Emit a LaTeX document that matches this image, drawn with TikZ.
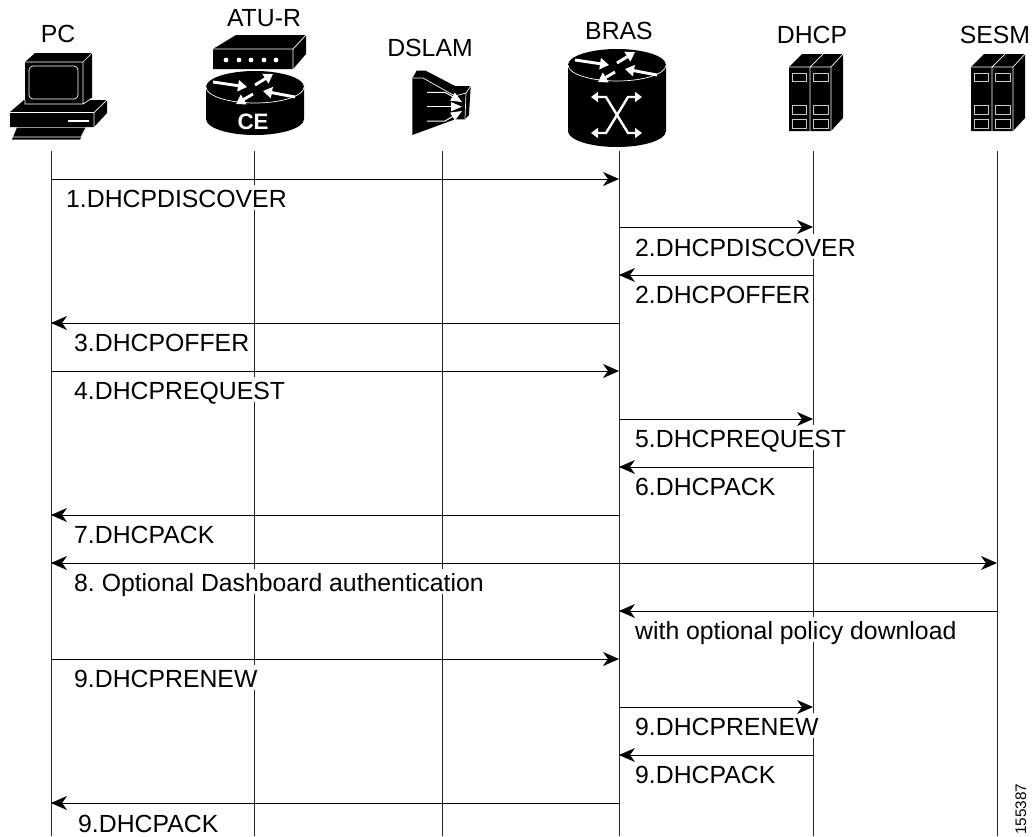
\documentclass[tikz,border=0pt]{standalone}
\usepackage{fontspec}
\setmainfont{Liberation Sans}
\usetikzlibrary{arrows.meta,positioning}
\definecolor{slotgray}{HTML}{C8C8C8}
\tikzset{
  lifeline/.style={black!85, line width=1pt},
  msg/.style={black, line width=0.9pt, -{Stealth[length=16pt,width=14pt,inset=5pt]}},
  msgboth/.style={black, line width=0.9pt, {Stealth[length=16pt,width=14pt,inset=5pt]}-{Stealth[length=16pt,width=14pt,inset=5pt]}},
  msglabel/.style={anchor=base west, inner sep=0pt, fill=white, text height=22pt, text depth=3pt, font=\fontsize{24.8}{28}\selectfont},
  devlabel/.style={anchor=base, inner sep=0pt, font=\fontsize{24.8}{28}\selectfont},
  whitearrow/.style={white, line width=2.9pt, -{Triangle[length=9pt,width=11pt]}},
  thinwhite/.style={white, line width=0.7pt},
  % router drum, origin at the centre of the top ellipse
  routerdrum/.pic={
    \fill[black] (-49,0) arc[start angle=180, end angle=360, x radius=49, y radius=16]
      -- (49,#1) arc[start angle=0, end angle=180, x radius=49, y radius=16] -- cycle;
    \draw[thinwhite] (-49,0) arc[start angle=180, end angle=0, x radius=49, y radius=16];
    \draw[whitearrow] (-42,-5) -- (-8,0);
    \draw[whitearrow] (0,-2) -- (18,-13);
    \draw[whitearrow] (40,10) -- (8,4);
    \draw[whitearrow] (-2,7) -- (-19,17);
  },
  % server pair, origin at the front top left corner
  serverpair/.pic={
    \fill[black] (0,0) -- (13,-13) -- (54,-13) -- (54,51) -- (42,64) -- (0,64) -- cycle;
    \draw[thinwhite] (0,0) -- (42,0) -- (54,-13) (21,0) -- (34,-13)
      (42,0) -- (42,64) (21,0) -- (21,64);
    \foreach \yy/\hh in {6/8,38/9,52/9}{
      \draw[slotgray, line width=0.8pt] (3,\yy) rectangle ++(14,\hh);
      \draw[slotgray, line width=0.8pt] (24,\yy) rectangle ++(15,\hh);
    }
  }
}
\begin{document}
\frenchspacing
\begin{tikzpicture}[x=1pt,y=-1pt]
  \useasboundingbox (0,0) rectangle (1036,836);
  % devices
  \node[devlabel] (pclabel) at (58,42) {PC};
  \node[devlabel] (atulabel) at (264,26) {ATU-R};
  \node[devlabel] (dslamlabel) at (430,56) {DSLAM};
  \node[devlabel] (braslabel) at (619,39) {BRAS};
  \node[devlabel] (dhcplabel) at (812,43) {DHCP};
  \node[devlabel] (sesmlabel) at (995,43) {SESM};
  % pc
  \fill[black] (10,112) -- (24,100) -- (107,100) -- (107,113) -- (94,127) -- (10,127) -- cycle;
  \draw[thinwhite] (10,112.5) -- (94,112.5) -- (107,100) (94,112.5) -- (94,127);
  \fill[black] (25,62) -- (35,53) -- (92,53) -- (92,98) -- (83,104) -- (25,104) -- cycle;
  \draw[thinwhite] (25,62) -- (83,62) -- (92,53) (83,62) -- (83,104) (25,100) -- (25,104) -- (83,104) -- (92,98);
  \draw[thinwhite, rounded corners=4pt] (29,66) rectangle (78,99);
  \draw[white, line width=1.1pt] (68,121) -- (89,121);
  \fill[black] (17,127.5) -- (86,127.5) -- (80,139.5) -- (12,139.5) -- cycle;
  \draw[thinwhite] (12.5,137) -- (81,137) -- (86,127.5);
  % atu-r box
  \fill[black] (213,49) -- (236,35) -- (306,35) -- (306,54) -- (293,69) -- (213,69) -- cycle;
  \draw[thinwhite] (213,49) -- (293,49) -- (306,35) (293,49) -- (293,69);
  \foreach \xx in {226,239,251,264,276}
    \fill[white] (\xx,60) circle (2.4);
  \pic at (255,87) {routerdrum=32};
  \node[anchor=base, inner sep=0pt, white, font=\fontsize{22.3}{24}\selectfont\bfseries] (celabel) at (253,129.5) {CE};
  % dslam
  \fill[black] (412.3,78.3) -- (416.7,70.7) -- (425.7,70.7) -- (455,86) -- (470.7,86) -- (469,115) -- (465,119.3) -- (455,119.3) -- (412.3,135) -- cycle;
  \draw[thinwhite] (412.3,78) -- (423,78) -- (455,96) -- (466,93) -- (470.7,86) (466,93) -- (465,119);
  \begin{scope}[white, line width=1pt, -{Triangle[length=11pt,width=9pt]}]
    \draw (427,92.3) -- (445,92.3) -- (462,102);
    \draw (427,106.7) -- (462,106.7);
    \draw (427,121) -- (445,121) -- (462,111);
  \end{scope}
  % bras
  \pic at (617,65) {routerdrum=66};
  \begin{scope}[shift={(617,115)}]
    \draw[white, line width=2.4pt, {Triangle[length=7pt,width=10pt]}-{Triangle[length=7pt,width=10pt]}] (-26,-18) -- (-11,-18) -- (11,18) -- (25,18);
    \draw[white, line width=2.4pt, {Triangle[length=7pt,width=10pt]}-{Triangle[length=7pt,width=10pt]}] (25,-18) -- (11,-18) -- (-11,18) -- (-26,18);
  \end{scope}
  % servers
  \pic at (789,67) {serverpair};
  \pic at (971,67) {serverpair};
  % lifelines
  \foreach \name/\xx in {pc/51,atu/254,dslam/442,bras/619,dhcp/813,sesm/997}{
    \coordinate (\name) at (\xx,151);
    \coordinate (\name-end) at (\xx,836);
    \draw[lifeline] (\name) -- (\name-end);
  }
  % message labels
  \node[msglabel] (m1) at (66,207) {1.DHCPDISCOVER};
  \node[msglabel] (m2) at (635,256) {2.DHCPDISCOVER};
  \node[msglabel] (m3) at (635,303) {2.DHCPOFFER};
  \node[msglabel] (m4) at (74,351) {3.DHCPOFFER};
  \node[msglabel] (m5) at (74,399) {4.DHCPREQUEST};
  \node[msglabel] (m6) at (635,447) {5.DHCPREQUEST};
  \node[msglabel] (m7) at (635,495) {6.DHCPACK};
  \node[msglabel] (m8) at (74,543) {7.DHCPACK};
  \node[msglabel] (m9) at (74,591) {8. Optional Dashboard authentication};
  \node[msglabel] (m10) at (635,639) {with optional policy download};
  \node[msglabel] (m11) at (74,687) {9.DHCPRENEW};
  \node[msglabel] (m12) at (635,735) {9.DHCPRENEW};
  \node[msglabel] (m13) at (635,783) {9.DHCPACK};
  \node[msglabel, text depth=0pt] (m14) at (78,832.5) {9.DHCPACK};
  \node[anchor=base west, inner sep=0pt, rotate=90, font=\fontsize{15.3}{17}\selectfont] (figid) at (1026,835) {155387};
  % message rows
  \foreach \i in {1,...,14}
    \coordinate (row\i) at (0,131+48*\i);
  \draw[msg] (pc |- row1) -- (bras |- row1);
  \draw[msg] (bras |- row2) -- (dhcp |- row2);
  \draw[msg] (dhcp |- row3) -- (bras |- row3);
  \draw[msg] (bras |- row4) -- (pc |- row4);
  \draw[msg] (pc |- row5) -- (bras |- row5);
  \draw[msg] (bras |- row6) -- (dhcp |- row6);
  \draw[msg] (dhcp |- row7) -- (bras |- row7);
  \draw[msg] (bras |- row8) -- (pc |- row8);
  \draw[msgboth] (pc |- row9) -- (sesm |- row9);
  \draw[msg] (sesm |- row10) -- (bras |- row10);
  \draw[msg] (pc |- row11) -- (bras |- row11);
  \draw[msg] (bras |- row12) -- (dhcp |- row12);
  \draw[msg] (dhcp |- row13) -- (bras |- row13);
  \draw[msg] (bras |- row14) -- (pc |- row14);
\end{tikzpicture}
\end{document}
